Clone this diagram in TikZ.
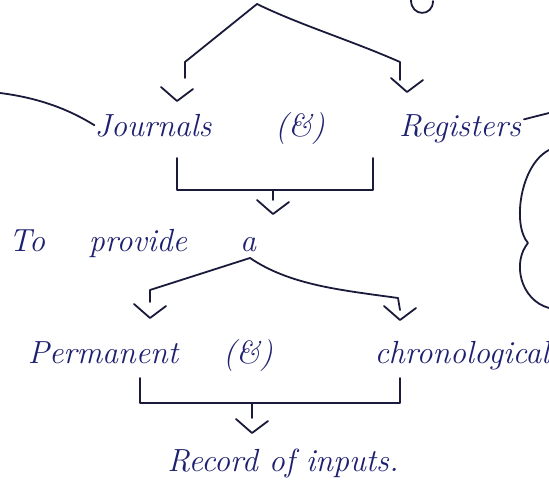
\documentclass[tikz,border=0pt]{standalone}
\tikzset{
  ink/.style={draw=inkline, line width=1.8pt, line cap=round, line join=round},
  word/.style={text=inktext, font=\fontsize{32}{36}\selectfont\itshape, inner sep=0pt, anchor=base},
  vmark/.pic={\draw[ink] (-16,-14) -- (0,0) -- (16,-12);}
}
\definecolor{inkline}{HTML}{1A1B3A}
\definecolor{inktext}{HTML}{1E2070}
\begin{document}
\begin{tikzpicture}[x=1pt,y=-1pt]
\useasboundingbox[fill=white] (0,0) rectangle (549,503);
% fragment of a letter at the top
\draw[ink] (411,0) .. controls (411,17) and (433,17) .. (433,1);
% top fork
\coordinate (top) at (257,4);
\coordinate (tl) at (185,62);
\coordinate (tr) at (400,62);
\draw[ink] (top) -- (tl) -- (185,78);
\draw[ink] (top) .. controls (300,25) and (350,40) .. (tr) -- (400,80);
\pic at (177,101) {vmark};
\pic at (407,92) {vmark};
% first row
\node[word] (journals) at (153,136) {Journals};
\node[word] (and1) at (300,136) {(\&)};
\node[word] (registers) at (460,136) {Registers};
% side strokes
\coordinate (lstart) at (0,93);
\draw[ink] (lstart) .. controls (40,98) and (70,110) .. (journals.west);
\coordinate (rend) at (549,113);
\draw[ink] (registers.east) ++(3,-9) -- (rend);
\draw[ink] (549,150) .. controls (520,165) and (512,225) .. (528,243)
  .. controls (512,262) and (520,300) .. (549,308);
% bracket below Journals and Registers
\draw[ink] (177,158) -- (177,190) -- (373,190) -- (373,158);
\draw[ink] (273,190) -- (273,200);
\pic at (273,214) {vmark};
% second row
\node[word] (to) at (27,251) {To};
\node[word] (provide) at (138,251) {provide};
\node[word] (a) at (248,251) {a};
% second fork
\coordinate (top2) at (250,258);
\draw[ink] (top2) -- (150,290) -- (150,302);
\draw[ink] (top2) .. controls (290,285) and (340,290) .. (398,298) -- (400,310);
\pic at (150,318) {vmark};
\pic at (400,320) {vmark};
% third row
\node[word] (permanent) at (103,363) {Permanent};
\node[word] (and2) at (248,363) {(\&)};
\node[word] (chrono) at (462,363) {chronological};
% bracket below
\draw[ink] (140,378) -- (140,403) -- (400,403) -- (400,378);
\draw[ink] (252,403) -- (252,418);
\pic at (252,433) {vmark};
\node[word] (record) at (283,471) {Record of inputs.};
\end{tikzpicture}
\end{document}
